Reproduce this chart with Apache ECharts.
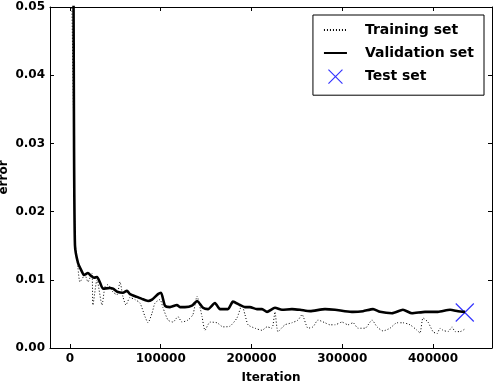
<!DOCTYPE html>
<html>
<head>
<meta charset="utf-8">
<script src="https://cdn.jsdelivr.net/npm/echarts@6/dist/echarts.min.js"></script>
<style>
  html, body { margin: 0; padding: 0; background: #fff; }
  #main { width: 494px; height: 382px; }
</style>
</head>
<body>
<div id="main"></div>
<script>
const trainIter = [1000, 4400, 5500, 8800, 11000, 16500, 19800, 24200, 25300, 29800, 35300, 38600, 41900, 47400, 51800, 55100, 58400, 61700, 66100, 71600, 77100, 82700, 86000, 90400, 93700, 99200, 102500, 108000, 113500, 119000, 123400, 130000, 135500, 140000, 145500, 148800, 154300, 162000, 168600, 176300, 184000, 189500, 192800, 196200, 203900, 211600, 217100, 222600, 225900, 229200, 236900, 244600, 251300, 255700, 262300, 267800, 273300, 281000, 286500, 292000, 299700, 306300, 311900, 317400, 325100, 332800, 338300, 344900, 352600, 360300, 366900, 374700, 382400, 385700, 389000, 394500, 400000, 404400, 407700, 411000, 416600, 421000, 424300, 429800, 435300];
const trainErr = [0.06, 0.03, 0.016, 0.0118, 0.0097, 0.0107, 0.0097, 0.0110, 0.0063, 0.0100, 0.0063, 0.0090, 0.0093, 0.0082, 0.0078, 0.0097, 0.0075, 0.0063, 0.0074, 0.0071, 0.0066, 0.0046, 0.0037, 0.0051, 0.0066, 0.0071, 0.0059, 0.0041, 0.0038, 0.0046, 0.0038, 0.0041, 0.0049, 0.0076, 0.0046, 0.0026, 0.0038, 0.0037, 0.0031, 0.0032, 0.0044, 0.0063, 0.0049, 0.0034, 0.0029, 0.0026, 0.0031, 0.0029, 0.0053, 0.0024, 0.0034, 0.0037, 0.0041, 0.0049, 0.0029, 0.0031, 0.0041, 0.0037, 0.0034, 0.0034, 0.0038, 0.0034, 0.0037, 0.0029, 0.0029, 0.0041, 0.0031, 0.0025, 0.0029, 0.0037, 0.0037, 0.0034, 0.0026, 0.0022, 0.0044, 0.0038, 0.0024, 0.0021, 0.0029, 0.0026, 0.0024, 0.0031, 0.0024, 0.0024, 0.0028];

const valIter = [3000, 4400, 5500, 8800, 13200, 15400, 19800, 23100, 26400, 29800, 33100, 36400, 44100, 47400, 52900, 58400, 62800, 66100, 73800, 79300, 86000, 90400, 97000, 100300, 104700, 110200, 117900, 121200, 126700, 134400, 140000, 146600, 152100, 159800, 165300, 174100, 179600, 187300, 192800, 198300, 206000, 211600, 217100, 225900, 233600, 244600, 253500, 264500, 281000, 292000, 303000, 311900, 322900, 333900, 341600, 354800, 366900, 376800, 391200, 405500, 418800, 427600, 435300];
const valErr = [0.09, 0.0328, 0.0151, 0.0125, 0.0112, 0.0107, 0.0110, 0.0106, 0.0103, 0.0104, 0.0096, 0.0087, 0.0088, 0.0087, 0.0082, 0.0081, 0.0084, 0.0079, 0.0075, 0.0072, 0.0069, 0.0071, 0.0079, 0.0081, 0.0062, 0.0060, 0.0063, 0.0060, 0.0060, 0.0062, 0.0069, 0.0059, 0.0057, 0.0066, 0.0057, 0.0057, 0.0068, 0.0063, 0.0060, 0.0060, 0.0057, 0.0057, 0.0053, 0.0059, 0.0056, 0.0057, 0.0056, 0.0054, 0.0057, 0.0056, 0.0054, 0.0053, 0.0054, 0.0057, 0.0053, 0.0051, 0.0056, 0.0051, 0.0053, 0.0053, 0.0056, 0.0054, 0.0053];

const testIter = [435000];
const testErr = [0.0052];

const xTicks = [0, 100000, 200000, 300000, 400000];

const font = 'DejaVu Sans';
const chart = echarts.init(document.getElementById('main'));

const zip = (xs, ys) => xs.map((x, i) => [x, ys[i]]);

const xRange = { min: -22000, max: 465000 };
const crossPath = 'path://M0,0L10,10M10,0L0,10';
// hide the round marker echarts puts on line legend icons
const noMarker = { color: 'transparent', borderColor: 'transparent', borderWidth: 0 };

const option = {
    animation: false,
    textStyle: { fontFamily: font },
    grid: { left: 50, right: 2, top: 7, bottom: 34, outerBoundsMode: 'none', containLabel: false },
    legend: {
        orient: 'vertical',
        right: 10,
        top: 15,
        padding: [8, 10, 11, 10],
        itemGap: 9,
        itemWidth: 23,
        itemHeight: 14,
        borderColor: '#000',
        borderWidth: 1,
        backgroundColor: '#fff',
        textStyle: { fontFamily: font, fontSize: 14, fontWeight: 'bold', color: '#000', padding: [0, 0, 0, 13] },
        data: [
            { name: 'Training set', itemStyle: noMarker },
            { name: 'Validation set', itemStyle: noMarker },
            { name: 'Test set', icon: crossPath, itemStyle: { color: 'transparent', borderColor: '#0000ff', borderWidth: 1.2 } }
        ]
    },
    xAxis: [{
        type: 'value',
        ...xRange,
        name: 'Iteration',
        nameLocation: 'middle',
        nameGap: 24,
        nameMoveOverlap: false,
        nameTextStyle: { fontFamily: font, fontSize: 12, fontWeight: 'bold', color: '#000' },
        axisLine: { onZero: false, lineStyle: { color: '#000', width: 1 } },
        axisTick: { inside: true, length: 4, customValues: xTicks, lineStyle: { color: '#000' } },
        axisLabel: { customValues: xTicks, fontSize: 12, fontWeight: 'bold', color: '#000', margin: 5, formatter: v => String(v) },
        splitLine: { show: false }
    }, {
        type: 'value',
        position: 'top',
        ...xRange,
        axisLine: { onZero: false, lineStyle: { color: '#000', width: 1 } },
        axisTick: { inside: true, length: 4, customValues: xTicks, lineStyle: { color: '#000' } },
        axisLabel: { show: false },
        splitLine: { show: false }
    }],
    yAxis: [{
        type: 'value',
        min: 0,
        max: 0.05,
        interval: 0.01,
        name: 'error',
        nameLocation: 'middle',
        nameGap: 40,
        nameMoveOverlap: false,
        nameTextStyle: { fontFamily: font, fontSize: 12, fontWeight: 'bold', color: '#000' },
        axisLine: { onZero: false, lineStyle: { color: '#000', width: 1 } },
        axisTick: { inside: true, length: 4, lineStyle: { color: '#000' } },
        axisLabel: { fontSize: 12, fontWeight: 'bold', color: '#000', margin: 5, formatter: v => v.toFixed(2) },
        splitLine: { show: false }
    }, {
        type: 'value',
        position: 'right',
        min: 0,
        max: 0.05,
        interval: 0.01,
        axisLine: { onZero: false, lineStyle: { color: '#000', width: 1 } },
        axisTick: { inside: true, length: 4, lineStyle: { color: '#000' } },
        axisLabel: { show: false },
        splitLine: { show: false }
    }],
    series: [
        {
            name: 'Training set',
            type: 'line',
            data: zip(trainIter, trainErr),
            showSymbol: false,
            symbol: 'none',
            smooth: 0.2,
            lineStyle: { color: '#000', width: 1, type: [1, 2] },
            itemStyle: { color: '#000' }
        },
        {
            name: 'Validation set',
            type: 'line',
            data: zip(valIter, valErr),
            showSymbol: false,
            symbol: 'none',
            smooth: 0.2,
            lineStyle: { color: '#000', width: 2.6 },
            itemStyle: { color: '#000' }
        },
        {
            name: 'Test set',
            type: 'scatter',
            data: zip(testIter, testErr),
            symbol: crossPath,
            symbolSize: 18,
            itemStyle: { color: 'transparent', borderColor: '#0000ff', borderWidth: 1.2 }
        }
    ]
};

chart.setOption(option);
</script>
</body>
</html>
